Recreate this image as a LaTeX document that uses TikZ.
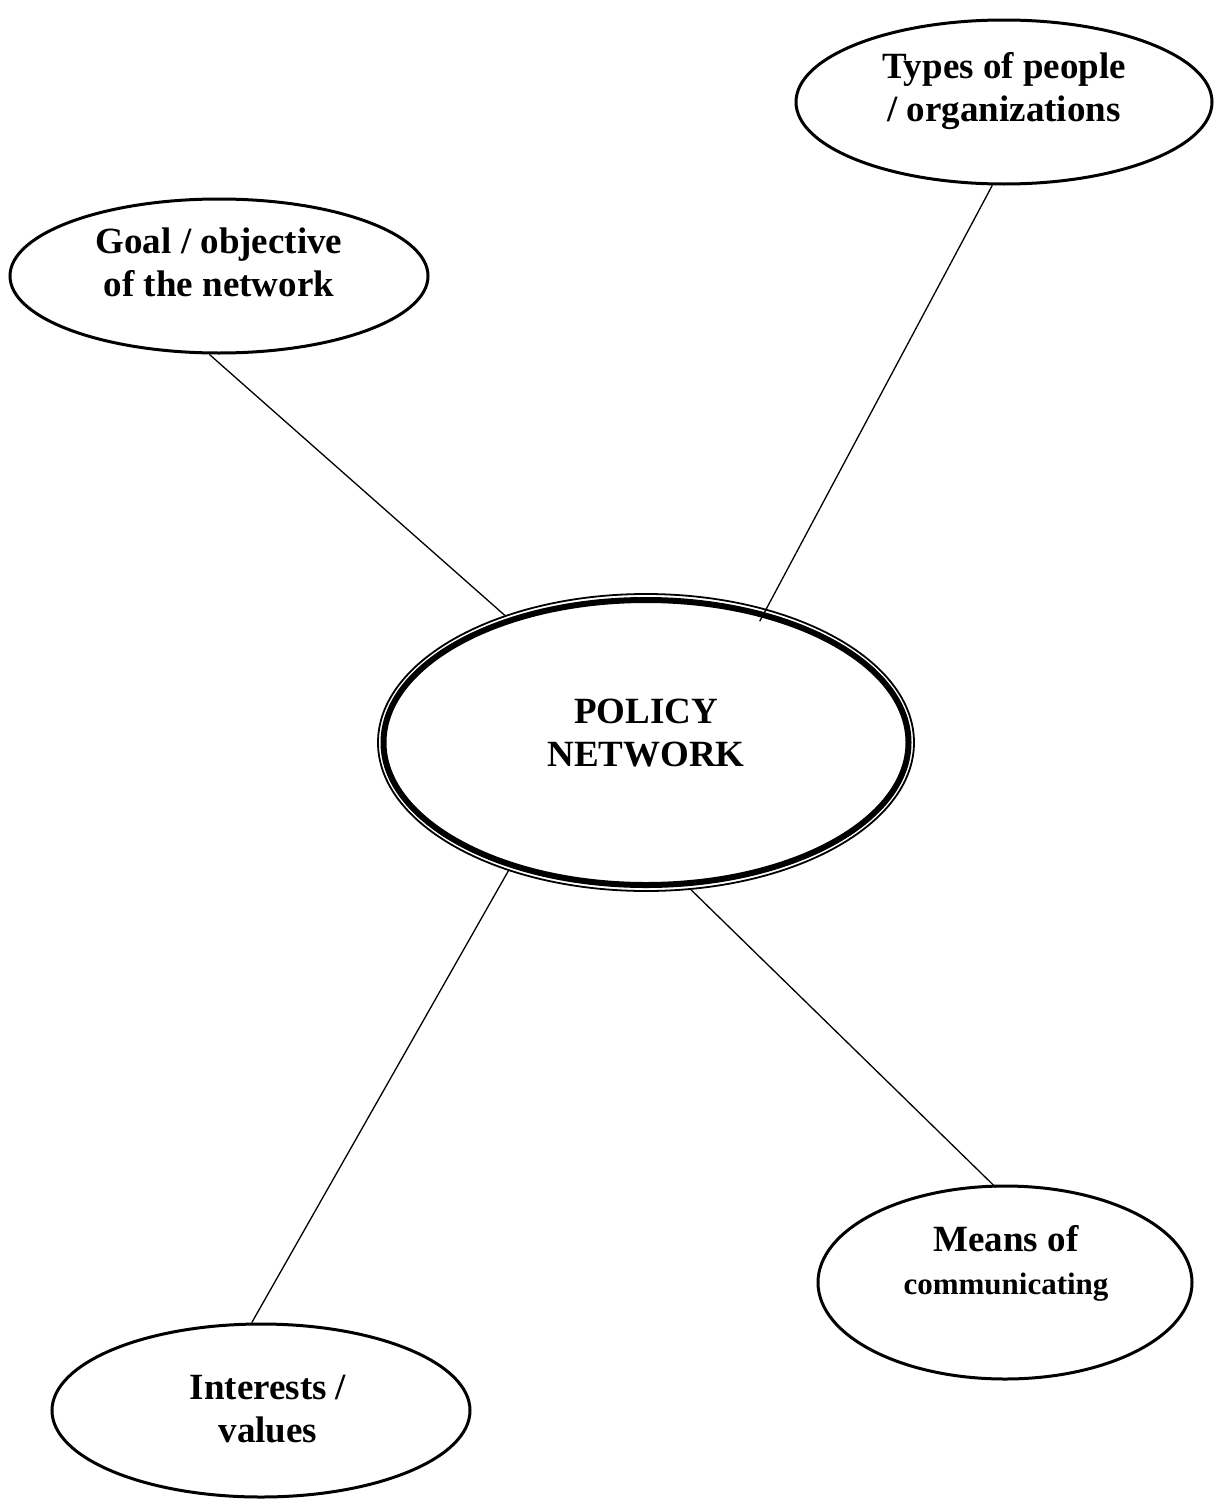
\documentclass[tikz,border=0pt]{standalone}
\usepackage{fontspec}
\setmainfont{Liberation Serif}
\usetikzlibrary{shapes.geometric}
\begin{document}
\begin{tikzpicture}[x=1pt,y=-1pt,
  bubble/.style={draw,ellipse,line width=3pt,inner sep=0pt,fill=none},
  label/.style={align=center,font=\bfseries\fontsize{37}{43}\selectfont,inner sep=0pt},
  conn/.style={line width=1.3pt}]
\useasboundingbox[fill=white] (0,0) rectangle (1214,1499);
% central double ellipse
\node[draw,ellipse,line width=1.8pt,minimum width=536pt,minimum height=297pt,inner sep=0pt] (main) at (646,742.5) {};
\node[draw,ellipse,line width=6pt,minimum width=525pt,minimum height=285pt,inner sep=0pt] (maininner) at (646,742.5) {};
\node[label] (maintext) at (646,733) {POLICY\\NETWORK};
% outer ellipses
\node[bubble,minimum width=418pt,minimum height=154pt] (goal) at (219,276) {};
\node[label] (goaltext) at (219,262) {Goal / objective\\of the network};
\node[bubble,minimum width=416pt,minimum height=164pt] (types) at (1004,102) {};
\node[label] (typestext) at (1004,91) {Types of people\\/ organizations};
\node[bubble,minimum width=374pt,minimum height=193pt] (means) at (1005,1282.5) {};
\node[label] (meanstext) at (1006,1263) {Means of\\{\fontsize{31}{43}\selectfont communicating}};
\node[bubble,minimum width=418pt,minimum height=173pt] (interests) at (261,1410.5) {};
\node[label] (intereststext) at (268,1409) {Interests /\\values};
% connectors
\draw[conn] (goal.263) -- (main.138);
\draw[conn,shorten >=-14pt] (types.262) -- (main.48);
\draw[conn] (interests.96) -- (main.223);
\draw[conn,shorten <=-4pt] (means.97) -- (main.-73.4);
\end{tikzpicture}
\end{document}
